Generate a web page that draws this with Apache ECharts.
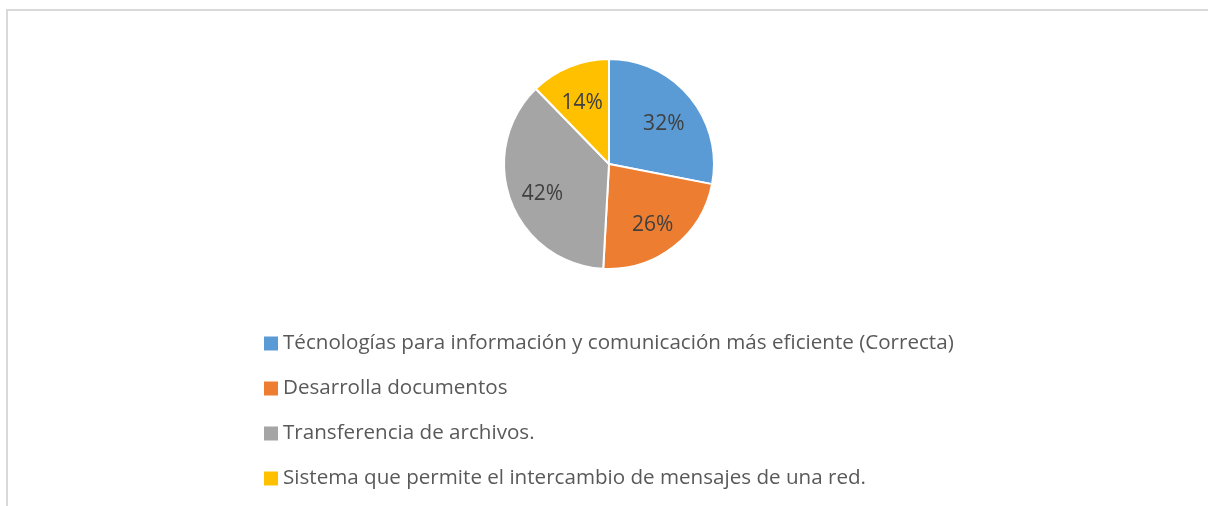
<!DOCTYPE html>
<html>
<head>
<meta charset="utf-8">
<style>
  html, body { margin: 0; padding: 0; background: #ffffff; }
  #chart { width: 1208px; height: 506px; }
</style>
<script src="https://cdn.jsdelivr.net/npm/echarts@6/dist/echarts.min.js"></script>
</head>
<body>
<div id="chart"></div>
<script>
const categories = [
  'Técnologías para información y comunicación más eficiente (Correcta)',
  'Desarrolla documentos',
  'Transferencia de archivos.',
  'Sistema que permite el intercambio de mensajes de una red.'
];
const values = [32, 26, 42, 14];
const colors = ['#5B9BD5', '#ED7D31', '#A5A5A5', '#FFC000'];

const FONT = '"Open Sans", "DejaVu Sans", sans-serif';

const pieData = categories.map((name, i) => ({
  name: name,
  value: values[i],
  itemStyle: { color: colors[i] }
}));

const chart = echarts.init(document.getElementById('chart'), null, { renderer: 'canvas' });
chart.setOption({
  backgroundColor: '#ffffff',
  animation: false,
  graphic: [{
    type: 'rect',
    silent: true,
    shape: { x: 7, y: 10, width: 1400, height: 700 },
    style: { fill: 'none', stroke: '#d9d9d9', lineWidth: 2 }
  }],
  legend: {
    orient: 'vertical',
    left: 259,
    top: 326,
    icon: 'rect',
    itemWidth: 14,
    itemHeight: 14,
    itemGap: 20,
    data: categories,
    itemStyle: { borderWidth: 0 },
    textStyle: {
      fontFamily: FONT,
      fontSize: 20.6,
      color: '#595959',
      lineHeight: 25
    }
  },
  series: [{
    type: 'pie',
    center: [609, 164],
    radius: [0, 105],
    startAngle: 90,
    clockwise: true,
    data: pieData,
    itemStyle: { borderColor: '#ffffff', borderWidth: 2 },
    label: { show: false },
    labelLine: { show: false },
    emphasis: { disabled: true }
  }, {
    type: 'pie',
    center: [609, 169],
    radius: [36, 100],
    startAngle: 90,
    clockwise: true,
    silent: true,
    data: pieData.map(d => ({ name: d.name, value: d.value })),
    itemStyle: { color: 'rgba(0,0,0,0)', borderWidth: 0 },
    label: {
      show: true,
      position: 'inside',
      formatter: p => p.value + '%',
      fontFamily: FONT,
      fontSize: 21,
      color: '#404040'
    },
    labelLine: { show: false },
    emphasis: { disabled: true }
  }]
});
</script>
</body>
</html>
